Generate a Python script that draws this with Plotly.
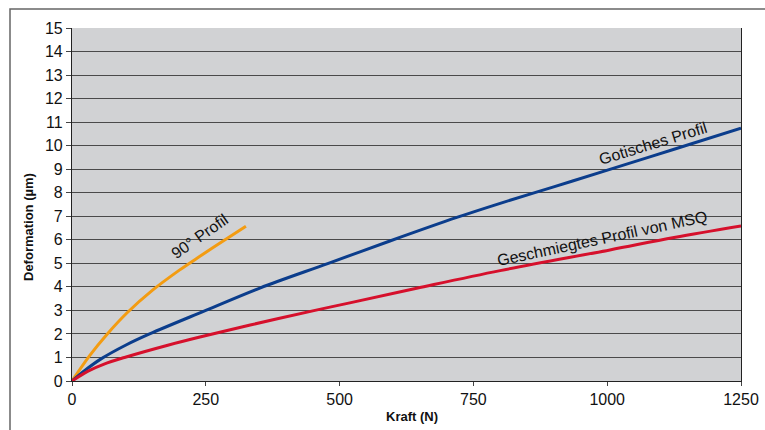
# Deformation vs. Kraft for three profile shapes
import plotly.graph_objects as go

# values
kraft_90 = [0, 33, 66, 103, 150, 200, 239, 286, 325]
deform_90 = [0, 1.08, 2.0, 2.9, 3.85, 4.7, 5.3, 6.0, 6.58]

kraft_got = [0, 24, 55, 100, 145, 250, 351, 479, 594, 719, 800, 900, 999, 1125, 1250]
deform_got = [0, 0.45, 0.95, 1.52, 2.0, 3.0, 3.95, 5.0, 5.95, 6.95, 7.55, 8.25, 8.95, 9.85, 10.74]

kraft_msq = [0, 30, 60, 98, 179, 239, 333, 454, 519, 644, 800, 1005, 1125, 1250]
deform_msq = [0, 0.42, 0.72, 1.0, 1.52, 1.87, 2.38, 3.0, 3.32, 3.94, 4.69, 5.57, 6.1, 6.59]

labels = ["90° Profil", "Gotisches Profil", "Geschmiegtes Profil von MSQ"]
label_x = [238, 1085, 990]
label_y = [6.15, 10.1, 6.05]
label_angle = [-35, -17, -12]

font = "Liberation Sans, Arial, sans-serif"

fig = go.Figure()
fig.add_trace(go.Scatter(x=kraft_90, y=deform_90, mode="lines",
                         line=dict(color="#f39c12", width=3, shape="spline")))
fig.add_trace(go.Scatter(x=kraft_got, y=deform_got, mode="lines",
                         line=dict(color="#0b3d8c", width=3, shape="spline")))
fig.add_trace(go.Scatter(x=kraft_msq, y=deform_msq, mode="lines",
                         line=dict(color="#d6102c", width=3, shape="spline")))

for txt, x, y, a in zip(labels, label_x, label_y, label_angle):
    fig.add_annotation(x=x, y=y, text=txt, textangle=a, showarrow=False,
                       font=dict(family=font, size=16, color="#111"))

# axis titles placed by hand
fig.add_annotation(xref="paper", yref="paper", x=(412 - 72) / 669, y=(381 - 416) / 353,
                   xanchor="center", yanchor="middle",
                   text="<b>Kraft (N)</b>", showarrow=False, font=dict(size=13))
fig.add_annotation(xref="paper", yref="paper", x=(28 - 72) / 669, y=(381 - 227) / 353,
                   xanchor="center", yanchor="middle",
                   text="<b>Deformation (µm)</b>", textangle=-90, showarrow=False,
                   font=dict(size=13))

# outer frame around the whole chart
fig.add_shape(type="rect", xref="paper", yref="paper",
              x0=(10 - 72) / 669, x1=(766 - 72) / 669,
              y0=(381 - 432) / 353, y1=(381 - 9) / 353,
              line=dict(color="#666", width=1.5), layer="below")

fig.update_layout(
    width=765, height=430,
    margin=dict(l=72, r=24, t=28, b=49),
    paper_bgcolor="white", plot_bgcolor="#d1d2d4",
    showlegend=False,
    font=dict(family=font, size=16, color="#111"),
)
fig.update_xaxes(range=[0, 1250], tickvals=[0, 250, 500, 750, 1000, 1250],
                 showgrid=False, zeroline=False, automargin=False,
                 showline=True, linecolor="#222", linewidth=1.2,
                 ticks="outside", ticklen=4, tickcolor="#444")
fig.update_yaxes(range=[0, 15], dtick=1, showgrid=True,
                 gridcolor="#4a4a4a", gridwidth=1.3, zeroline=False, automargin=False,
                 showline=True, linecolor="#222", linewidth=1.2, mirror=True,
                 ticks="outside", ticklen=5, tickcolor="#444")

# page body has a default margin; drop it so the figure sits at 0,0
fig.write_html("out.html", config={"displayModeBar": False},
               post_script="document.body.style.margin='0';")
